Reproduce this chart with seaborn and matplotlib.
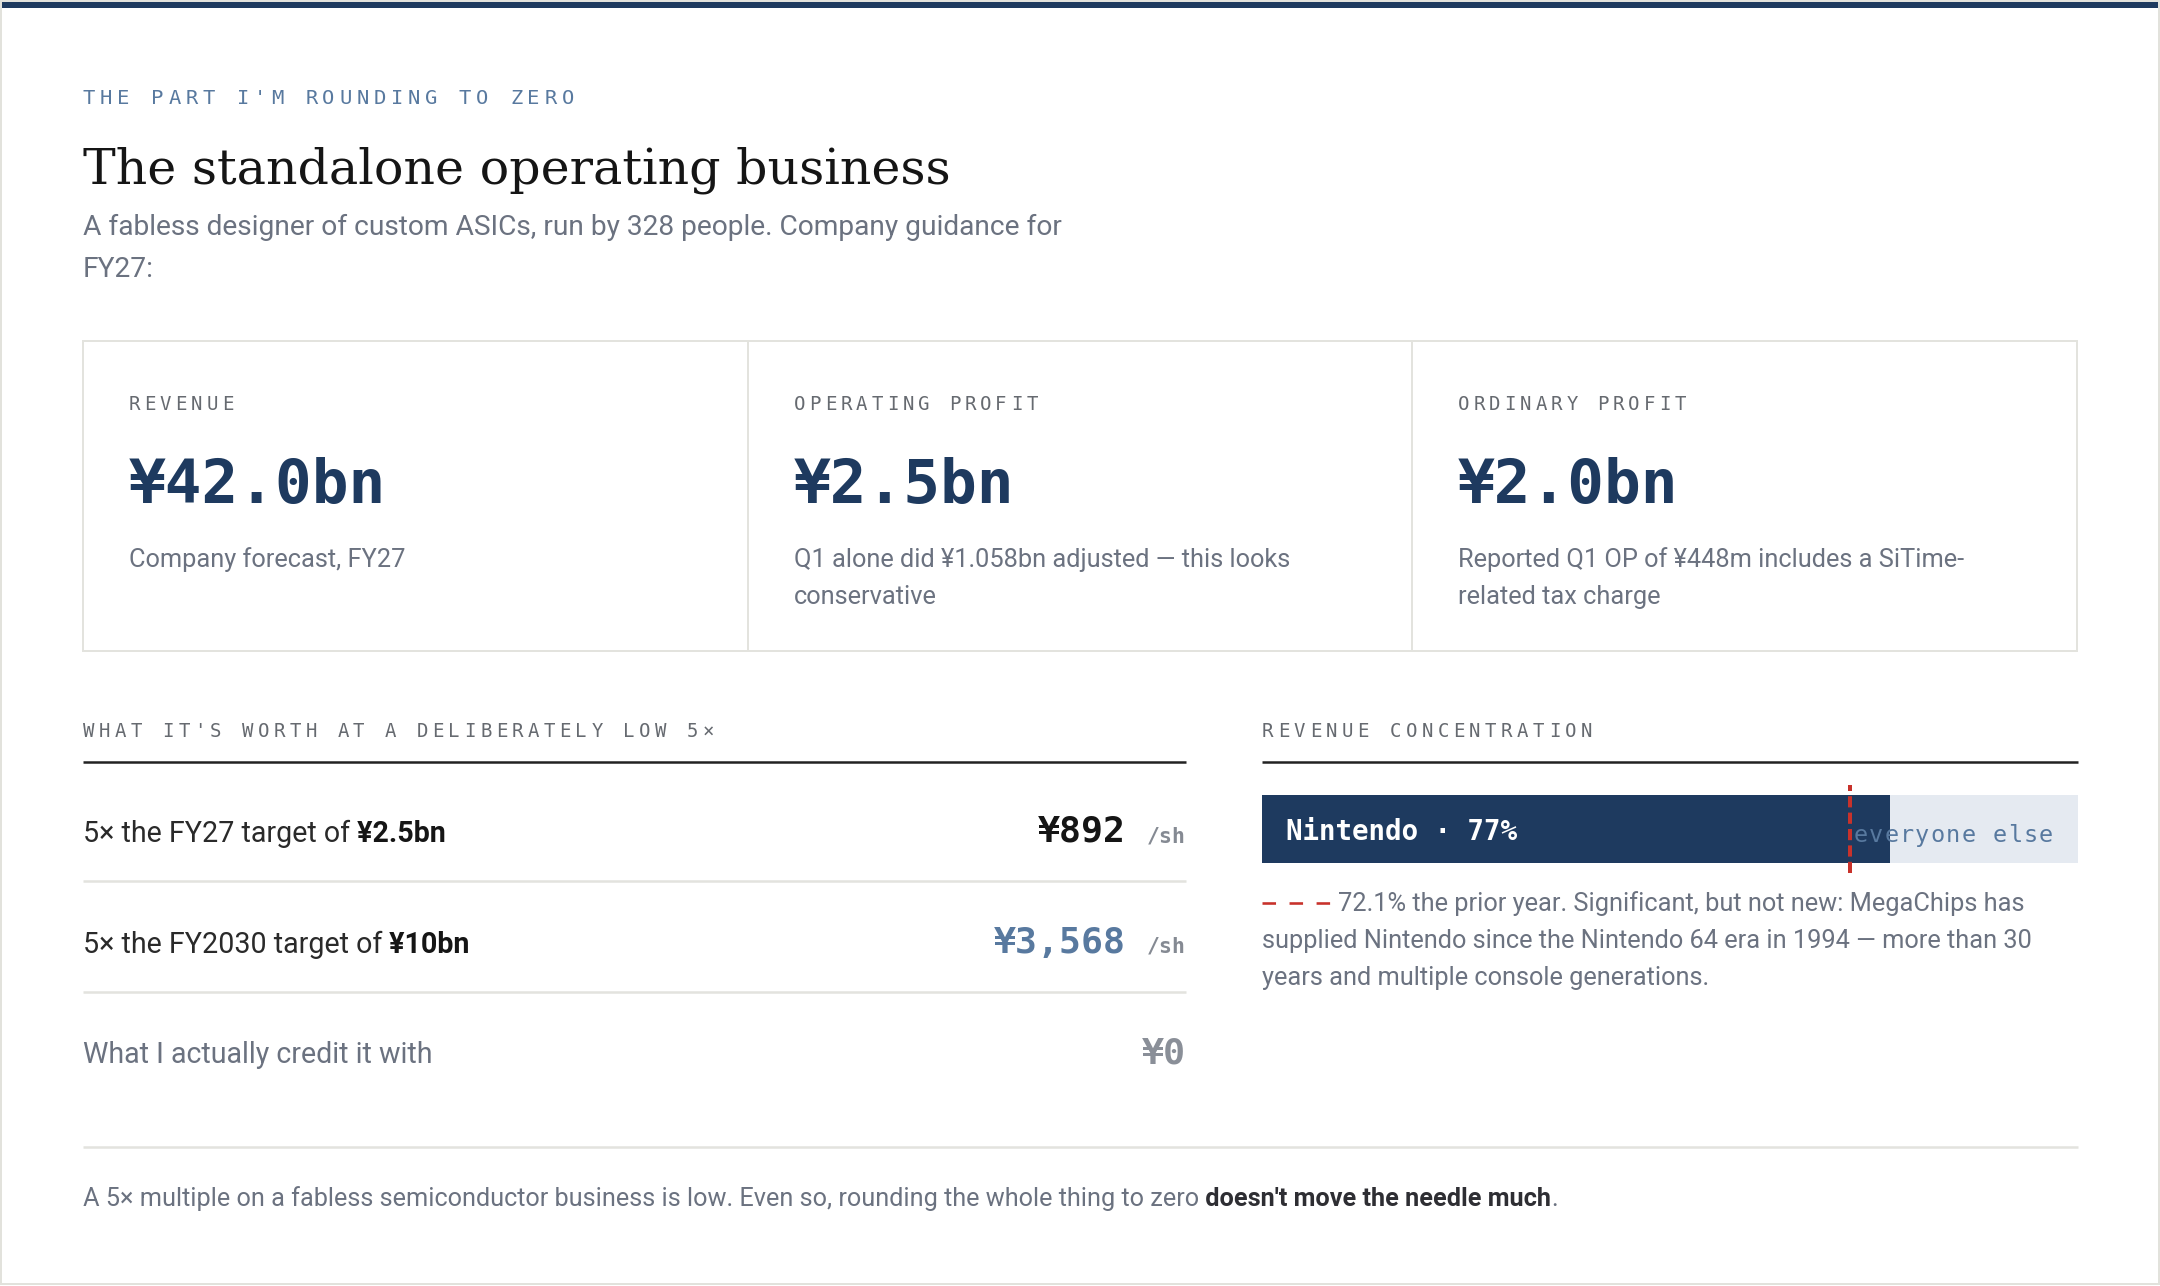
"""Standalone operating business card: FY27 guidance, 5x valuation, revenue concentration."""

import matplotlib
matplotlib.use("Agg")
import matplotlib.pyplot as plt
from matplotlib.patches import Rectangle
import seaborn as sns

W, H, DPI = 2160, 1286, 100

# ---- data -------------------------------------------------------------
card_labels = ["REVENUE", "OPERATING PROFIT", "ORDINARY PROFIT"]
card_values = [42.0, 2.5, 2.0]  # ¥bn, company guidance FY27
card_notes = [
    "Company forecast, FY27",
    "Q1 alone did ¥1.058bn adjusted — this looks\nconservative",
    "Reported Q1 OP of ¥448m includes a SiTime-\nrelated tax charge",
]

row_labels = ["5× the FY27 target of", "5× the FY2030 target of", "What I actually credit it with"]
row_bold = ["¥2.5bn", "¥10bn", ""]
row_values = [892, 3568, 0]  # ¥ per share
row_units = ["/sh", "/sh", ""]

share_labels = ["Nintendo", "everyone else"]
share_values = [77, 23]  # % of revenue
prior_year_share = 72.1

# ---- style ------------------------------------------------------------
NAVY = "#1e3a5f"
STEEL = "#58799f"
GRAY = "#6b7280"
LABEL = "#666a70"
RULE = "#e3e3de"
LIGHT_BAR = "#e5eaf1"
RED = "#c8322b"
INK = "#151515"

SANS = ["Roboto", "DejaVu Sans"]
MONO = ["DejaVu Sans Mono"]
SERIF = ["DejaVu Serif"]

sns.set_theme(style="white")
plt.rcParams["font.family"] = SANS


def pt(px):
    return px * 72 / DPI


fig = plt.figure(figsize=(W / DPI, H / DPI), dpi=DPI)
fig.patch.set_facecolor("white")
ax = fig.add_axes([0, 0, 1, 1])
ax.set_xlim(0, W)
ax.set_ylim(H, 0)
ax.axis("off")


def hline(y, x0, x1, color, lw_px):
    ax.plot([x0, x1], [y, y], color=color, lw=pt(lw_px), solid_capstyle="butt")


def spaced(x, y, s, em, gap, color, weight="normal", ha="left", target=None):
    """Letter-spaced monospace text, one glyph per cell."""
    target = target or ax
    adv = 0.602 * em + gap
    if ha == "right":
        x = x - len(s) * adv + gap
    for i, ch in enumerate(s):
        target.text(x + adv * i + 0.301 * em, y, ch, ha="center", va="baseline",
                    fontsize=pt(em), family=MONO, color=color, weight=weight,
                    transform=ax.transData)


def run(x, y, parts, em, family=SANS):
    """Chain text pieces on one baseline (regular / bold runs)."""
    s, color, weight = parts[0]
    t = ax.text(x, y, s, va="baseline", ha="left", fontsize=pt(em),
                family=family, color=color, weight=weight)
    for s, color, weight in parts[1:]:
        t = ax.annotate(s, xy=(1, 0), xycoords=t, va="bottom", ha="left",
                        fontsize=pt(em), family=family, color=color, weight=weight)
    return t


# ---- frame ------------------------------------------------------------
ax.add_patch(Rectangle((1, 1), W - 2, H - 3, fill=False, edgecolor="#e2e2dc", lw=pt(2)))
ax.add_patch(Rectangle((2, 2), W - 4, 6, facecolor=NAVY, edgecolor="none"))

# ---- header -----------------------------------------------------------
spaced(83, 104, "THE PART I'M ROUNDING TO ZERO", 20.5, 4.75, STEEL)
ax.text(83, 183, "The standalone operating business", fontsize=pt(49), family=SERIF,
        color=INK, va="baseline")
ax.text(83, 235, "A fabless designer of custom ASICs, run by 328 people. Company guidance for",
        fontsize=pt(28.1), color=GRAY, va="baseline")
ax.text(83, 277, "FY27:", fontsize=pt(28.1), color=GRAY, va="baseline")

# ---- guidance cards ---------------------------------------------------
card_x = [83, 748, 1412, 2077]
ax.add_patch(Rectangle((card_x[0], 341), card_x[-1] - card_x[0], 310, fill=False,
                       edgecolor=RULE, lw=pt(2)))
for xd in card_x[1:-1]:
    ax.plot([xd, xd], [341, 651], color=RULE, lw=pt(2))

for i, (lab, val, note) in enumerate(zip(card_labels, card_values, card_notes)):
    x0 = card_x[i] + 46
    spaced(x0, 410, lab, 19, 4.05, LABEL)
    ax.text(x0, 503, f"¥{val:.1f}bn", fontsize=pt(61), family=MONO, weight="bold",
            color=NAVY, va="baseline")
    for j, line in enumerate(note.split("\n")):
        ax.text(x0, 567 + 37 * j, line, fontsize=pt(25.4), color=GRAY, va="baseline")

# ---- valuation table --------------------------------------------------
spaced(83, 737, "WHAT IT'S WORTH AT A DELIBERATELY LOW 5×", 19, 4.45, LABEL)
hline(762, 83, 1186, "#222222", 2.5)

row_base = [842, 953, 1063]
value_colors = [INK, STEEL, "#8a8f98"]
for i, (lab, bold, val, unit) in enumerate(zip(row_labels, row_bold, row_values, row_units)):
    y = row_base[i]
    if bold:
        run(83, y, [(lab, "#2a2a2a", "normal"), (" " + bold, INK, "bold")], 28.6)
    else:
        ax.text(83, y, lab, fontsize=pt(28.6), color=GRAY, va="baseline")
    txt = f"¥{val:,}"
    if unit:
        ax.text(1126, y, txt, fontsize=pt(36.5), family=MONO, weight="bold",
                color=value_colors[i], ha="right", va="baseline")
        ax.text(1186, y, unit, fontsize=pt(21.5), family=MONO, weight="bold",
                color="#858a93", ha="right", va="baseline")
    else:
        ax.text(1186, y, txt, fontsize=pt(36.5), family=MONO, weight="bold",
                color=value_colors[i], ha="right", va="baseline")
    if i < len(row_labels) - 1:
        hline(row_base[i] + 39, 83, 1186, RULE, 2.5)

# ---- revenue concentration -------------------------------------------
spaced(1262, 737, "REVENUE CONCENTRATION", 19, 4.5, LABEL)
hline(762, 1262, 2078, "#222222", 2.5)

bar_top, bar_bot = 795, 863
bax = fig.add_axes([1262 / W, 1 - bar_bot / H, 816 / W, (bar_bot - bar_top) / H])
sns.barplot(x=[sum(share_values)], y=["share"], orient="h", color=LIGHT_BAR,
            saturation=1, width=1, linewidth=0, ax=bax)
sns.barplot(x=[share_values[0]], y=["share"], orient="h", color=NAVY,
            saturation=1, width=1, linewidth=0, ax=bax)
bax.set_xlim(0, 100)
bax.set_ylim(0.5, -0.5)
bax.axis("off")

bax.text(1286, 840, f"{share_labels[0]} · {share_values[0]}%", fontsize=pt(27.5),
         family=MONO, weight="bold", color="white", va="baseline", transform=ax.transData)
spaced(2053, 842, share_labels[1], 23.5, 1.3, STEEL, ha="right", target=bax)
bax.axvline(prior_year_share, ymin=-0.15, ymax=1.14, clip_on=False, color=RED,
            lw=pt(4), ls=(0, (2.8, 1.3)), zorder=5)

ax.plot([1262, 1334], [903, 903], color=RED, lw=pt(2.6), ls=(0, (5.2, 5.2)),
        solid_capstyle="butt")
note_lines = [
    f"{prior_year_share}% the prior year. Significant, but not new: MegaChips has",
    "supplied Nintendo since the Nintendo 64 era in 1994 — more than 30",
    "years and multiple console generations.",
]
for j, line in enumerate(note_lines):
    ax.text(1338 if j == 0 else 1262, 911 + 37 * j, line, fontsize=pt(25.4),
            color=GRAY, va="baseline")

# ---- footer -----------------------------------------------------------
hline(1147, 83, 2078, RULE, 2.5)
run(83, 1206, [
    ("A 5× multiple on a fabless semiconductor business is low. Even so, rounding the whole thing to zero",
     GRAY, "normal"),
    (" doesn't move the needle much", "#2e2e33", "bold"),
    (".", GRAY, "normal"),
], 25.3)

fig.savefig("out.png", dpi=DPI, facecolor="white")
